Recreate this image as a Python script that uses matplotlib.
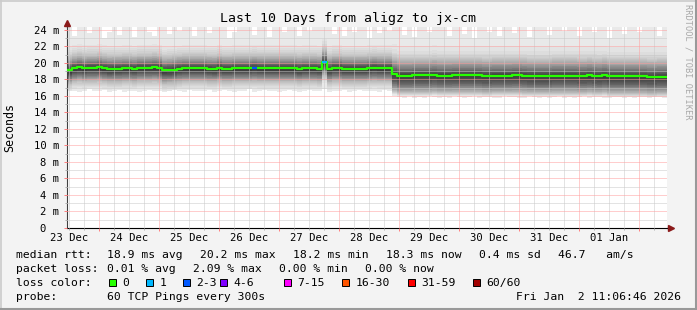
import datetime as dt
import numpy as np
import matplotlib
matplotlib.use("Agg")
import matplotlib.pyplot as plt
import matplotlib.dates as mdates
from matplotlib.ticker import MultipleLocator, FuncFormatter
from matplotlib.patches import Rectangle
from matplotlib.lines import Line2D

# ---------------- data ----------------
TITLE = "Last 10 Days from aligz to jx-cm"
start_time = dt.datetime(2025, 12, 23, 11, 6, 46)
step_hours = 2
level_change = dt.datetime(2025, 12, 28, 21, 6, 46)

median_ms = [
    19.10, 19.35, 19.45, 19.35, 19.40, 19.40, 19.45, 19.35, 19.27, 19.30,
    19.30, 19.35, 19.35, 19.30, 19.40, 19.40, 19.40, 19.45, 19.40, 19.10,
    19.15, 19.20, 19.30, 19.35, 19.35, 19.35, 19.35, 19.35, 19.30, 19.27,
    19.40, 19.30, 19.30, 19.35, 19.35, 19.35, 19.35, 19.40, 19.35, 19.35,
    19.35, 19.35, 19.35, 19.35, 19.35, 19.35, 19.27, 19.35, 19.35, 19.35,
    19.30, 20.10, 19.25, 19.40, 19.40, 19.30, 19.30, 19.30, 19.30, 19.30,
    19.35, 19.40, 19.35, 19.35, 19.35, 18.65, 18.47, 18.47, 18.47, 18.50,
    18.50, 18.50, 18.50, 18.55, 18.47, 18.47, 18.47, 18.50, 18.50, 18.50,
    18.50, 18.50, 18.50, 18.42, 18.42, 18.47, 18.47, 18.47, 18.47, 18.50,
    18.50, 18.45, 18.40, 18.40, 18.40, 18.40, 18.40, 18.45, 18.45, 18.45,
    18.45, 18.45, 18.42, 18.42, 18.48, 18.42, 18.40, 18.48, 18.37, 18.37,
    18.37, 18.37, 18.37, 18.37, 18.37, 18.37, 18.30, 18.30, 18.34, 18.34,
]

max_ping_ms = [
    25.0, 23.2, 25.0, 25.0, 23.6, 25.0, 25.0, 23.0, 23.8, 25.0,
    23.4, 25.0, 25.0, 23.1, 25.0, 25.0, 23.7, 23.3, 25.0, 25.0,
    23.5, 25.0, 23.9, 25.0, 25.0, 23.2, 25.0, 25.0, 23.6, 25.0,
    25.0, 25.0, 23.0, 23.8, 25.0, 25.0, 25.0, 23.4, 25.0, 25.0,
    23.1, 25.0, 25.0, 23.7, 25.0, 25.0, 23.3, 25.0, 23.9, 25.0,
    25.0, 25.0, 25.0, 23.5, 25.0, 23.2, 25.0, 23.8, 25.0, 25.0,
    23.0, 25.0, 23.6, 25.0, 23.9, 25.0, 25.0, 23.4, 25.0, 23.1,
    25.0, 25.0, 23.7, 25.0, 25.0, 25.0, 23.3, 25.0, 25.0, 23.5,
    25.0, 23.0, 25.0, 25.0, 23.8, 25.0, 23.2, 25.0, 25.0, 23.6,
    25.0, 25.0, 23.1, 25.0, 25.0, 25.0, 23.4, 25.0, 25.0, 23.9,
    25.0, 25.0, 23.3, 25.0, 25.0, 23.7, 25.0, 25.0, 23.0, 25.0,
    25.0, 23.5, 25.0, 25.0, 23.8, 25.0, 25.0, 25.0, 23.2, 25.0,
]

min_ping_ms = [
    16.70, 16.60, 16.50, 16.65, 16.80, 16.55, 16.60, 16.70, 16.50, 16.60,
    16.75, 16.50, 16.60, 16.65, 16.45, 16.60, 16.70, 16.55, 16.60, 16.50,
    16.65, 16.80, 16.60, 16.50, 16.70, 16.60, 16.55, 16.65, 16.75, 16.50,
    16.60, 16.70, 16.55, 16.50, 16.65, 16.60, 16.80, 16.50, 16.60, 16.70,
    16.55, 16.65, 16.50, 16.60, 16.75, 16.60, 16.50, 16.65, 16.70, 16.55,
    16.60, 16.80, 16.50, 16.65, 16.60, 16.70, 16.50, 16.60, 16.75, 16.55,
    16.60, 16.65, 16.50, 16.70, 16.60, 16.00, 15.85, 15.80, 15.95, 15.75,
    15.90, 15.80, 16.00, 15.85, 15.75, 15.90, 15.80, 15.95, 15.85, 15.75,
    15.90, 16.00, 15.80, 15.85, 15.90, 15.75, 15.80, 15.95, 15.85, 15.90,
    15.75, 15.80, 16.00, 15.85, 15.80, 15.90, 15.75, 15.85, 15.95, 15.80,
    15.90, 15.75, 15.85, 16.00, 15.80, 15.85, 15.90, 15.75, 15.80, 15.95,
    15.85, 15.80, 15.90, 15.75, 15.85, 15.90, 15.80, 15.95, 15.85, 15.80,
]

# ping rank offsets (rank 2..30 from the top / bottom) relative to the median
upper_before = [2.80, 2.50, 2.25, 2.00, 1.83, 1.70, 1.58, 1.47, 1.37, 1.27,
                1.18, 1.10, 1.02, 0.94, 0.87, 0.80, 0.74, 0.68, 0.62, 0.56,
                0.50, 0.43, 0.36, 0.29, 0.22, 0.15, 0.10, 0.05, 0.00]
lower_before = [2.50, 2.35, 2.20, 2.08, 1.95, 1.82, 1.70, 1.60, 1.52, 1.45,
                1.38, 1.32, 1.26, 1.20, 1.14, 1.07, 1.00, 0.93, 0.86, 0.80,
                0.74, 0.68, 0.62, 0.56, 0.48, 0.40, 0.30, 0.20, 0.10]
upper_after = [3.60, 3.00, 2.60, 2.38, 2.23, 2.10, 1.98, 1.86, 1.75, 1.64,
               1.53, 1.43, 1.33, 1.23, 1.13, 1.03, 0.94, 0.85, 0.76, 0.68,
               0.60, 0.52, 0.44, 0.36, 0.28, 0.20, 0.13, 0.06, 0.00]
lower_after = [2.45, 2.40, 2.34, 2.28, 2.22, 2.16, 2.10, 2.04, 1.97, 1.90,
               1.82, 1.74, 1.66, 1.58, 1.50, 1.42, 1.34, 1.26, 1.18, 1.10,
               1.02, 0.92, 0.80, 0.66, 0.52, 0.38, 0.25, 0.12, 0.05]

loss_steps = [37, 51]
loss_counts = [2, 1]

loss_labels = ["0", "1", "2-3", "4-6", "7-15", "16-30", "31-59", "60/60"]
loss_upper = [0, 1, 3, 6, 15, 30, 59, 60]
loss_colors = ["#26ff00", "#00b8ff", "#0059ff", "#7e00ff",
               "#ff00ff", "#ff5500", "#ff0000", "#a10000"]

legend_rtt = ["median rtt:", "18.9 ms avg", "20.2 ms max", "18.2 ms min",
              "18.3 ms now", "0.4 ms sd", "46.7   am/s"]
legend_loss = ["packet loss:", "0.01 % avg", "2.09 % max", "0.00 % min", "0.00 % now"]
probe_text = ["probe:", "60 TCP Pings every 300s"]
stamp = "Fri Jan  2 11:06:46 2026"
watermark = "RRDTOOL / TOBI OETIKER"

# ---------------- figure ----------------
W, H = 697, 310
MONO = "DejaVu Sans Mono"
plt.rcParams["font.family"] = [MONO]

def fx(px):
    return px / W

def fy(py):
    return 1 - py / H

fig = plt.figure(figsize=(W / 100, H / 100), dpi=100, facecolor="#f3f3f3")
ax = fig.add_axes([fx(67), fy(228), fx(667) - fx(67), fy(27) - fy(228)])
ax.set_facecolor("white")

n = len(median_ms)
edges = [start_time + dt.timedelta(hours=step_hours * i) for i in range(n + 1)]
x = mdates.date2num(edges)
med = np.array(median_ms)
after = np.array([t >= level_change for t in edges[:-1]])

half = 30
for k in range(1, half + 1):
    if k == 1:
        up = np.array(max_ping_ms)
        lo = np.array(min_ping_ms)
    else:
        up = med + np.where(after, upper_after[k - 2], upper_before[k - 2])
        lo = med - np.where(after, lower_after[k - 2], lower_before[k - 2])
    g = int(190 / half * (half - k)) + 50
    col = "#%02x%02x%02x" % (g, g, g)
    ax.fill_between(x, np.append(lo, lo[-1]), np.append(up, up[-1]),
                    step="post", color=col, lw=0, zorder=1, antialiased=False)

ax.step(x, np.append(med, med[-1]), where="post", color=loss_colors[0],
        lw=1.6, zorder=3)
for idx, cnt in zip(loss_steps, loss_counts):
    ci = next(i for i, u in enumerate(loss_upper) if cnt <= u)
    ax.plot([x[idx], x[idx + 1]], [med[idx], med[idx]], color=loss_colors[ci],
            lw=1.6, zorder=4, solid_capstyle="butt")

ax.set_xlim(x[0], x[-1])
ax.set_ylim(0, 24.35)

# grid
ax.xaxis.set_major_locator(mdates.DayLocator())
ax.xaxis.set_minor_locator(mdates.HourLocator(byhour=[6, 12, 18]))
ax.yaxis.set_major_locator(MultipleLocator(2))
ax.yaxis.set_minor_locator(MultipleLocator(1))
ax.grid(which="major", color="#ff9c9c", ls=(0, (1, 1)), lw=0.72)
ax.grid(which="minor", color="#c8c8c8", ls=(0, (1, 1)), lw=0.72)
ax.set_axisbelow(False)

ax.tick_params(axis="x", which="both", labelbottom=False)
ax.tick_params(axis="x", which="major", length=2, width=0.72, color="#ff8080")
ax.tick_params(axis="x", which="minor", length=1.5, width=0.72, color="#b0b0b0")
ax.tick_params(axis="y", which="major", length=2, width=0.72, color="#ff8080",
               labelsize=7.6, pad=3.4)
ax.tick_params(axis="y", which="minor", length=1.5, width=0.72, color="#b0b0b0")
ax.yaxis.set_major_formatter(FuncFormatter(
    lambda v, _: "0  " if abs(v) < 1e-9 else f"{int(round(v))} m"))

sec = ax.secondary_xaxis("bottom")
sec.xaxis.set_major_locator(mdates.HourLocator(byhour=12))
sec.xaxis.set_major_formatter(mdates.DateFormatter("%d %b"))
sec.tick_params(length=0, pad=3.5, labelsize=7.6)
sec.spines["bottom"].set_visible(False)

for s in ["top", "right"]:
    ax.spines[s].set_visible(False)
ax.spines["left"].set_color("#404040")
ax.spines["left"].set_linewidth(0.8)
ax.spines["bottom"].set_color("black")
ax.spines["bottom"].set_linewidth(0.8)

# axis arrows
arrow_col = "#8b1a1a"
ax.add_line(Line2D([0, 0], [1, 1.02], transform=ax.transAxes, color="#404040",
                   lw=0.8, clip_on=False))
ax.plot([0], [1.022], marker="^", ms=4.5, color=arrow_col, transform=ax.transAxes,
        clip_on=False, zorder=6)
ax.add_line(Line2D([1, 1.006], [0, 0], transform=ax.transAxes, color="black",
                   lw=0.8, clip_on=False))
ax.plot([1.007], [0], marker=">", ms=4.5, color=arrow_col, transform=ax.transAxes,
        clip_on=False, zorder=6)

# texts
fig.text(fx(348.5), fy(22), TITLE, ha="center", va="baseline", fontsize=9.5,
         family=MONO)
fig.text(fx(10), fy(127), "Seconds", rotation=90, ha="center", va="center",
         fontsize=8.4, family=MONO)
fig.text(fx(688), fy(4), watermark, rotation=270, ha="center", va="top",
         fontsize=6.2, family=MONO, color="#a8a8a8")

LEG = 8.2
rtt_x = [16, 107, 200, 293, 386, 479, 558]
for s, px in zip(legend_rtt, rtt_x):
    fig.text(fx(px), fy(258), s, ha="left", va="baseline", fontsize=LEG, family=MONO)
loss_x = [16, 107, 193, 279, 365]
for s, px in zip(legend_loss, loss_x):
    fig.text(fx(px), fy(272), s, ha="left", va="baseline", fontsize=LEG, family=MONO)

fig.text(fx(16), fy(286), "loss color:", ha="left", va="baseline", fontsize=LEG,
         family=MONO)
sw_x = [109, 146, 183, 220, 284, 342, 408, 473]
for lab, col, px in zip(loss_labels, loss_colors, sw_x):
    fig.add_artist(Rectangle((fx(px), fy(286)), 7 / W, 7.5 / H,
                             transform=fig.transFigure, facecolor=col,
                             edgecolor="black", lw=0.7))
    fig.text(fx(px + 13.5), fy(286), lab, ha="left", va="baseline", fontsize=LEG,
             family=MONO)

fig.text(fx(16), fy(299.5), probe_text[0], ha="left", va="baseline", fontsize=LEG,
         family=MONO)
fig.text(fx(107), fy(299.5), probe_text[1], ha="left", va="baseline", fontsize=LEG,
         family=MONO)
fig.text(fx(681), fy(299.5), stamp, ha="right", va="baseline", fontsize=LEG,
         family=MONO)

# 3D frame
fig.add_artist(Line2D([0, 1], [fy(0.5), fy(0.5)], transform=fig.transFigure,
                      color="#cbcbcb", lw=1.2))
fig.add_artist(Line2D([fx(0.5), fx(0.5)], [0, 1], transform=fig.transFigure,
                      color="#cbcbcb", lw=1.2))
fig.add_artist(Line2D([0, 1], [fy(309), fy(309)], transform=fig.transFigure,
                      color="#999999", lw=1.5))
fig.add_artist(Line2D([fx(696), fx(696)], [0, 1], transform=fig.transFigure,
                      color="#999999", lw=1.5))

fig.savefig("out.png", dpi=100, facecolor=fig.get_facecolor())
